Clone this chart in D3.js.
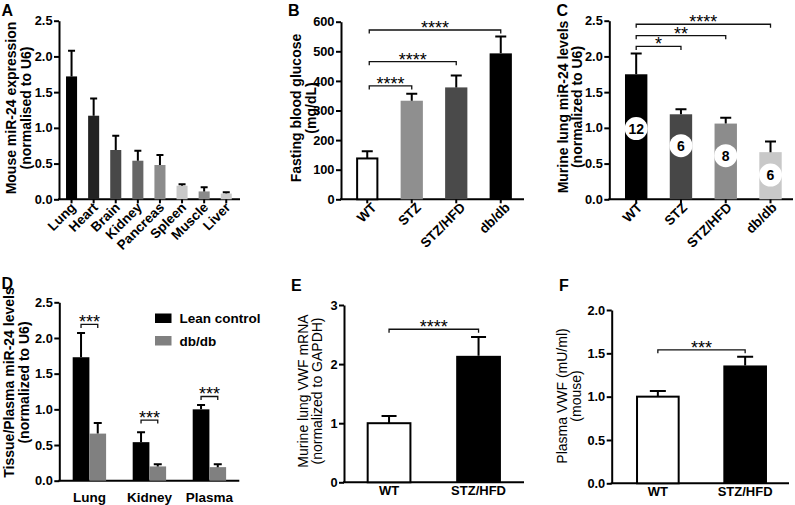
<!DOCTYPE html>
<html><head><meta charset="utf-8">
<script src="https://cdn.jsdelivr.net/npm/d3@7"></script>
<style>
body{margin:0;background:#fff}
svg{display:block;font-family:"Liberation Sans",Arial,sans-serif}
</style></head><body>
<svg id="c" width="795" height="505"></svg>
<script>
// ---------- DATA ----------
// Panel A
const aCategories = ["Lung","Heart","Brain","Kidney","Pancreas","Spleen","Muscle","Liver"];
const aMeans = [1.72,1.17,0.69,0.54,0.48,0.19,0.11,0.08];
const aSem = [0.36,0.24,0.20,0.14,0.14,0.02,0.06,0.02];
const aColors = ["#000000","#222222","#484848","#666666","#8c8c8c","#c8c8c8","#8a8a8a","#cacaca"];
const aTicks = [0,0.5,1.0,1.5,2.0,2.5];
// Panel B
const bCategories = ["WT","STZ","STZ/HFD","db/db"];
const bMeans = [138,333,378,493];
const bSem = [24,24,40,57];
const bColors = ["#ffffff","#8f8f8f","#4a4a4a","#000000"];
const bTicks = [0,100,200,300,400,500,600];
const bBrackets = [[0,1,383,"****"],[0,2,465,"****"],[0,3,572,"****"]];
// Panel C
const cCategories = ["WT","STZ","STZ/HFD","db/db"];
const cMeans = [1.75,1.19,1.06,0.66];
const cSem = [0.29,0.07,0.08,0.15];
const cColors = ["#000000","#474747","#8c8c8c","#c8c8c8"];
const cN = ["12","6","8","6"];
const cNPos = [0.99,0.75,0.61,0.34];
const cTicks = [0,0.5,1.0,1.5,2.0,2.5];
const cBrackets = [[0,1,2.14,"*"],[0,2,2.29,"**"],[0,3,2.45,"****"]];
// Panel D
const dGroups = ["Lung","Kidney","Plasma"];
const dSeries = ["Lean control","db/db"];
const dLean = [1.73,0.54,1.00];
const dLeanSem = [0.34,0.14,0.06];
const dDb = [0.66,0.20,0.19];
const dDbSem = [0.15,0.03,0.04];
const dColors = ["#000000","#808080"];
const dTicks = [0,0.5,1.0,1.5,2.0,2.5];
const dBrackets = [[0,2.19,"***"],[1,0.85,"***"],[2,1.18,"***"]];
// Panel E
const eCategories = ["WT","STZ/HFD"];
const eMeans = [1.0,2.14];
const eSem = [0.12,0.32];
const eTicks = [0,1,2,3];
const eBracket = [0,1,2.59,"****"];
// Panel F
const fCategories = ["WT","STZ/HFD"];
const fMeans = [1.0,1.36];
const fSem = [0.065,0.10];
const fTicks = [0,0.5,1.0,1.5,2.0];
const fBracket = [0,1,1.54,"***"];
const efColors = ["#ffffff","#000000"];

// ---------- HELPERS ----------
const svg = d3.select("#c");
const FONT = '"Liberation Sans",Arial,sans-serif';

function frame(o) {
  const g = svg.append("g");
  const y = d3.scaleLinear().domain(o.domain).range([o.yBot, o.yTop]);
  const ya = g.append("g").attr("transform", `translate(${o.x0},0)`)
    .call(d3.axisLeft(y).tickValues(o.ticks).tickFormat(d3.format(o.fmt)).tickSize(5).tickSizeOuter(0).tickPadding(1.5));
  ya.attr("font-family", FONT).attr("font-size", 12.8).attr("font-weight", "bold");
  ya.select(".domain").attr("stroke", "#000").attr("stroke-width", 2);
  ya.selectAll(".tick line").attr("stroke", "#000").attr("stroke-width", 2);
  ya.selectAll(".tick text").attr("fill", "#000");
  g.append("line").attr("x1", o.x0 - 1).attr("x2", o.x1).attr("y1", o.yBot).attr("y2", o.yBot)
    .attr("stroke", "#000").attr("stroke-width", 2);
  g.append("text").attr("x", o.lx).attr("y", o.ly).text(o.letter)
    .attr("font-size", 16).attr("font-weight", "bold");
  const t = g.append("text").attr("transform", `translate(0,${o.tcy}) rotate(-90)`)
    .attr("text-anchor", "middle").attr("font-size", 14)
    .attr("font-weight", o.titleBold ? "bold" : "normal");
  o.title.forEach((s, i) => t.append("tspan").attr("x", 0).attr("y", o.tx[i]).text(s));
  return { g, y };
}

function bars(g, x, y, cats, means, sem, colors, capW) {
  g.selectAll(null).data(cats).enter().append("rect")
    .attr("x", (d, i) => x(d) + (colors[i] === "#ffffff" ? 1 : 0))
    .attr("width", (d, i) => x.bandwidth() - (colors[i] === "#ffffff" ? 2 : 0))
    .attr("y", (d, i) => y(means[i]))
    .attr("height", (d, i) => y(0) - y(means[i]))
    .attr("fill", (d, i) => colors[i])
    .attr("stroke", (d, i) => colors[i] === "#ffffff" ? "#000" : "none")
    .attr("stroke-width", 2);
  g.selectAll(null).data(cats).enter().append("path")
    .attr("d", (d, i) => {
      const cx = x(d) + x.bandwidth() / 2;
      const yt = y(means[i] + sem[i]);
      return `M${cx},${y(means[i])}V${yt}M${cx - capW / 2},${yt}H${cx + capW / 2}`;
    })
    .attr("fill", "none").attr("stroke", "#000").attr("stroke-width", 2);
}

function bracket(g, x1, x2, yy, label) {
  g.append("path").attr("d", `M${x1},${yy + 3.5}V${yy}H${x2}V${yy + 3.5}`)
    .attr("fill", "none").attr("stroke", "#111").attr("stroke-width", 1.3);
  g.append("text").attr("x", (x1 + x2) / 2).attr("y", yy + 4).attr("text-anchor", "middle")
    .attr("font-size", 18).text(label);
}

function rotLabels(g, x, cats, yBot, dx) {
  g.selectAll(null).data(cats).enter().append("text")
    .attr("transform", d => `translate(${x(d) + x.bandwidth() / 2 + dx},${yBot + 9}) rotate(-45)`)
    .attr("text-anchor", "end").attr("font-size", 13.5).attr("font-weight", "bold").text(d => d);
}

function xTicks(g, x, cats, yBot) {
  g.selectAll(null).data(cats).enter().append("line")
    .attr("x1", d => x(d) + x.bandwidth() / 2).attr("x2", d => x(d) + x.bandwidth() / 2)
    .attr("y1", yBot).attr("y2", yBot + 4).attr("stroke", "#000").attr("stroke-width", 2);
}

// ---------- PANEL A ----------
{
  const o = { x0: 59, x1: 240, yTop: 20.7, yBot: 199.3, domain: [0, 2.5], ticks: aTicks, fmt: ".1f",
    letter: "A", lx: 1.5, ly: 15.5, title: ["Mouse miR-24 expression", "(normalised to U6)"], tx: [16, 30.5], tcy: 108, titleBold: true };
  const { g, y } = frame(o);
  const x = d3.scaleBand().domain(aCategories).range([60.5, 237.3]).paddingInner(0.5).paddingOuter(0.25);
  bars(g, x, y, aCategories, aMeans, aSem, aColors, 7);
  xTicks(g, x, aCategories, o.yBot);
  rotLabels(g, x, aCategories, o.yBot, 5);
}
// ---------- PANEL B ----------
{
  const o = { x0: 341, x1: 524, yTop: 21.7, yBot: 199.3, domain: [0, 600], ticks: bTicks, fmt: "d",
    letter: "B", lx: 288, ly: 15.5, title: ["Fasting blood glucose", "(mg/dL)"], tx: [301, 315.5], tcy: 108, titleBold: true };
  const { g, y } = frame(o);
  const x = d3.scaleBand().domain(bCategories).range([345, 523]).paddingInner(0.5).paddingOuter(0.25);
  bars(g, x, y, bCategories, bMeans, bSem, bColors, 11);
  xTicks(g, x, bCategories, o.yBot);
  rotLabels(g, x, bCategories, o.yBot, 10);
  bBrackets.forEach(b => bracket(g, x(bCategories[b[0]]) + x.bandwidth() / 2 + 2, x(bCategories[b[1]]) + x.bandwidth() / 2, y(b[2]), b[3]));
}
// ---------- PANEL C ----------
{
  const o = { x0: 609.3, x1: 793, yTop: 20.7, yBot: 199.3, domain: [0, 2.5], ticks: cTicks, fmt: ".1f",
    letter: "C", lx: 556.5, ly: 15.5, title: ["Murine lung miR-24 levels", "(normalized to U6)"], tx: [567.5, 582], tcy: 107, titleBold: true };
  const { g, y } = frame(o);
  const x = d3.scaleBand().domain(cCategories).range([613.8, 792.9]).paddingInner(0.5).paddingOuter(0.25);
  bars(g, x, y, cCategories, cMeans, cSem, cColors, 11);
  xTicks(g, x, cCategories, o.yBot);
  rotLabels(g, x, cCategories, o.yBot, 7);
  g.selectAll(null).data(cCategories).enter().append("circle")
    .attr("cx", d => x(d) + x.bandwidth() / 2).attr("cy", (d, i) => y(cNPos[i])).attr("r", 11.5).attr("fill", "#fff");
  g.selectAll(null).data(cCategories).enter().append("text")
    .attr("x", d => x(d) + x.bandwidth() / 2).attr("y", (d, i) => y(cNPos[i]) + 5)
    .attr("text-anchor", "middle").attr("font-size", 14).attr("font-weight", "bold").text((d, i) => cN[i]);
  cBrackets.forEach(b => bracket(g, x(cCategories[b[0]]) + x.bandwidth() / 2, x(cCategories[b[1]]) + x.bandwidth() / 2, y(b[2]), b[3]));
}
// ---------- PANEL D ----------
{
  const o = { x0: 59.3, x1: 239.3, yTop: 302.3, yBot: 480.7, domain: [0, 2.5], ticks: dTicks, fmt: ".1f",
    letter: "D", lx: 1.5, ly: 288.5, title: ["Tissue/Plasma miR-24 levels", "(normalized to U6)"], tx: [14, 29], tcy: 382.5, titleBold: true };
  const { g, y } = frame(o);
  const xg = d3.scaleBand().domain(dGroups).range([59.3, 239.5]).paddingInner(0.443).paddingOuter(0.223);
  const xs = d3.scaleBand().domain(dSeries).range([0, xg.bandwidth()]);
  const vals = [dLean, dDb], sems = [dLeanSem, dDbSem];
  dSeries.forEach((s, si) => {
    const sub = g.append("g");
    sub.selectAll(null).data(dGroups).enter().append("rect")
      .attr("x", d => xg(d) + xs(s)).attr("width", xs.bandwidth())
      .attr("y", (d, i) => y(vals[si][i])).attr("height", (d, i) => y(0) - y(vals[si][i]))
      .attr("fill", dColors[si]);
    sub.selectAll(null).data(dGroups).enter().append("path")
      .attr("d", (d, i) => {
        const cx = xg(d) + xs(s) + xs.bandwidth() / 2, yt = y(vals[si][i] + sems[si][i]);
        return `M${cx},${y(vals[si][i])}V${yt}M${cx - 4},${yt}H${cx + 4}`;
      }).attr("fill", "none").attr("stroke", "#000").attr("stroke-width", 2);
  });
  g.selectAll(null).data(dGroups).enter().append("text")
    .attr("x", d => xg(d) + xg.bandwidth() / 2).attr("y", 502)
    .attr("text-anchor", "middle").attr("font-size", 13.5).attr("font-weight", "bold").text(d => d);
  dBrackets.forEach(b => {
    const gname = dGroups[b[0]];
    bracket(g, xg(gname) + xs(dSeries[0]) + xs.bandwidth() / 2, xg(gname) + xs(dSeries[1]) + xs.bandwidth() / 2, y(b[1]), b[2]);
  });
  const lg = g.append("g");
  dSeries.forEach((s, i) => {
    lg.append("rect").attr("x", 155).attr("y", 313.5 + i * 22.5).attr("width", 16.5).attr("height", 9.5).attr("fill", dColors[i]);
    lg.append("text").attr("x", 179.5).attr("y", 323 + i * 22.5).attr("font-size", 13.5).attr("font-weight", "bold").text(s);
  });
}
// ---------- PANEL E ----------
{
  const o = { x0: 344, x1: 524, yTop: 305, yBot: 482.3, domain: [0, 3], ticks: eTicks, fmt: "d",
    letter: "E", lx: 291, ly: 290.5, title: ["Murine lung VWF mRNA", "(normalized to GAPDH)"], tx: [307.5, 322], tcy: 391, titleBold: false };
  const { g, y } = frame(o);
  const x = d3.scaleBand().domain(eCategories).range([344.3, 523.3]).paddingInner(0.5).paddingOuter(0.25);
  bars(g, x, y, eCategories, eMeans, eSem, efColors, 15);
  g.selectAll(null).data(eCategories).enter().append("text")
    .attr("x", d => x(d) + x.bandwidth() / 2).attr("y", 495)
    .attr("text-anchor", "middle").attr("font-size", 13).attr("font-weight", "bold").text(d => d);
  bracket(g, x(eCategories[eBracket[0]]) + x.bandwidth() / 2, x(eCategories[eBracket[1]]) + x.bandwidth() / 2, y(eBracket[2]), eBracket[3]);
}
// ---------- PANEL F ----------
{
  const o = { x0: 611.7, x1: 789, yTop: 310, yBot: 483.3, domain: [0, 2], ticks: fTicks, fmt: ".1f",
    letter: "F", lx: 559, ly: 290.5, title: ["Plasma VWF (mU/ml)", "(mouse)"], tx: [567, 581], tcy: 396, titleBold: false };
  const { g, y } = frame(o);
  const x = d3.scaleBand().domain(fCategories).range([614.2, 788.8]).paddingInner(0.5).paddingOuter(0.25);
  bars(g, x, y, fCategories, fMeans, fSem, efColors, 16);
  g.selectAll(null).data(fCategories).enter().append("text")
    .attr("x", d => x(d) + x.bandwidth() / 2).attr("y", 496)
    .attr("text-anchor", "middle").attr("font-size", 13).attr("font-weight", "bold").text(d => d);
  bracket(g, x(fCategories[fBracket[0]]) + x.bandwidth() / 2, x(fCategories[fBracket[1]]) + x.bandwidth() / 2, y(fBracket[2]), fBracket[3]);
}
</script>
</body></html>
